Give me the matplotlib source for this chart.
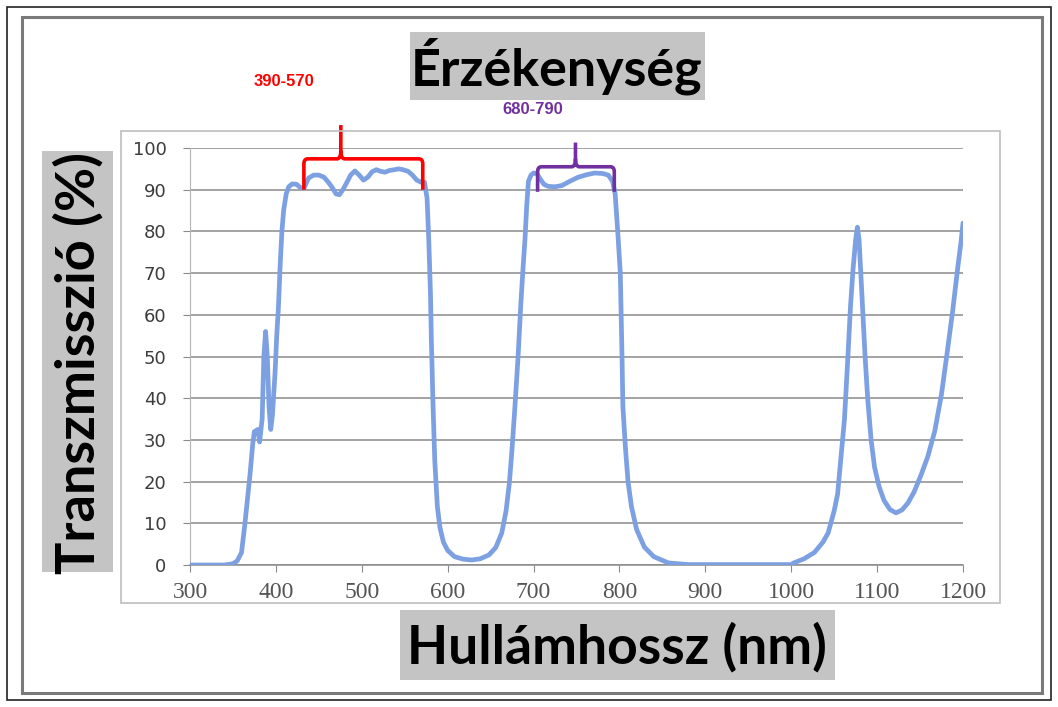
import matplotlib
matplotlib.use("Agg")
import matplotlib.pyplot as plt
from matplotlib.patches import Rectangle, PathPatch
from matplotlib.path import Path

# ---- data ----
wavelength = [300, 340, 350, 355, 360, 364, 367, 370, 373, 375, 379, 381, 384, 386, 388, 390,
              392, 394, 396, 399, 401, 403, 405, 407, 409, 412, 415, 419, 424, 429, 433, 438,
              444, 450, 456, 461, 465, 470, 474, 478, 482, 487, 492, 497, 502, 507, 512, 517,
              522, 527, 532, 538, 543, 548, 554, 559, 564, 569, 573, 576, 578, 580, 581, 583,
              585, 588, 591, 595, 600, 608, 618, 628, 638, 648, 656, 663, 668, 672, 675, 678,
              682, 685, 688, 690, 692, 694, 697, 700, 704, 708, 712, 717, 725, 733, 742, 752,
              762, 771, 780, 787, 792, 795, 798, 801, 803, 804, 807, 810, 814, 820, 829, 840,
              857, 880, 1000, 1003, 1015, 1027, 1037, 1043, 1050, 1054, 1058, 1062, 1066, 1069,
              1072, 1075, 1077, 1079, 1081, 1083, 1086, 1089, 1093, 1097, 1102, 1108, 1115, 1122,
              1129, 1136, 1143, 1151, 1159, 1167, 1175, 1182, 1188, 1194, 1198, 1200]
transmission = [0, 0, 0.3, 1, 3, 10, 16, 22, 29, 32, 32.5, 29.5, 35, 50, 56, 50,
                38, 32.5, 36, 46, 55, 62, 72, 80, 85, 89, 90.7, 91.4, 91.3, 90.4, 90.5, 92.8,
                93.5, 93.5, 93, 91.8, 90.7, 89, 88.8, 90, 91.5, 93.5, 94.5, 93.5, 92.3, 93, 94.3, 94.8,
                94.4, 94.2, 94.6, 94.8, 95, 94.8, 94.4, 93.5, 92.3, 91.8, 91.8, 88, 78, 65, 54, 38,
                25, 14, 9, 5.5, 3.5, 2, 1.4, 1.2, 1.5, 2.4, 4.2, 7.7, 13, 20, 28, 37,
                50, 62, 72, 78, 86, 92, 93.5, 94, 93.8, 92.5, 91.3, 90.8, 90.7, 91, 92, 93,
                93.6, 94, 93.9, 93.5, 92, 89, 80, 70, 50, 38, 28, 20, 14, 8.5, 4.3, 2,
                0.5, 0.1, 0.1, 0.5, 1.5, 3, 5.5, 7.7, 13, 17, 26, 35, 50, 62,
                71, 78, 81, 78, 70, 62, 50, 40, 30, 23.5, 19, 15.5, 13.3, 12.5,
                13.2, 14.9, 17.5, 21.5, 26, 32, 41, 51.6, 61, 71.5, 78, 82]
x_ticks = [300, 400, 500, 600, 700, 800, 900, 1000, 1100, 1200]
y_ticks = [0, 10, 20, 30, 40, 50, 60, 70, 80, 90, 100]

# bracket annotations: (left, centre, right, bottom, bar, top)
red_bracket = (432.6, 475.6, 571.0, 90.0, 97.4, 105.5)
purple_bracket = (704.7, 748.8, 794.0, 89.5, 95.5, 101.3)

title = "Érzékenység"
xlabel = "Hullámhossz (nm)"
ylabel = "Transzmisszió (%)"
red_label = "390-570"
purple_label = "680-790"

W, H = 1058, 707
fig = plt.figure(figsize=(W / 100, H / 100), dpi=100)
fig.patch.set_facecolor("white")


def fx(px):
    return px / W


def fy(py):
    return 1 - py / H


# outer frames
fig.patches.append(Rectangle((fx(7), fy(700)), fx(1051) - fx(7), fy(7) - fy(700),
                             transform=fig.transFigure, fill=False, ec="#222222", lw=1.2))
fig.patches.append(Rectangle((fx(22), fy(693)), fx(1042) - fx(22), fy(17) - fy(693),
                             transform=fig.transFigure, fill=False, ec="#7a7a7a", lw=2.2))
# plot-area frame
fig.patches.append(Rectangle((fx(121), fy(603)), fx(1000) - fx(121), fy(131) - fy(603),
                             transform=fig.transFigure, fill=False, ec="#bdbdbd", lw=1.2))

ax = fig.add_axes([fx(190), fy(565), fx(963) - fx(190), fy(148) - fy(565)])
ax.set_facecolor("none")
ax.plot(wavelength, transmission, color="#7ca0e2", lw=3.4, solid_capstyle="round",
        solid_joinstyle="round", zorder=3)
ax.set_xlim(300, 1200)
ax.set_ylim(0, 100)
ax.set_xticks(x_ticks)
ax.set_yticks(y_ticks)
ax.grid(axis="y", color="#8a8a8a", lw=1.1)
ax.set_axisbelow(True)
for s in ["top", "right"]:
    ax.spines[s].set_visible(False)
ax.spines["left"].set_color("#b5b5b5")
ax.spines["bottom"].set_color("#8a8a8a")
ax.spines["bottom"].set_linewidth(1.1)
ax.tick_params(axis="x", length=5, color="#8a8a8a", pad=7, labelsize=17, labelcolor="#555555")
ax.tick_params(axis="y", length=5, color="#8a8a8a", pad=12, labelsize=13, labelcolor="#3c3c3c")
for lab in ax.get_xticklabels():
    lab.set_family(["Liberation Serif", "DejaVu Serif"])
for lab in ax.get_yticklabels():
    lab.set_family(["DejaVu Sans"])


def bracket(b, color):
    L, C, R, y0, yb, yt = b
    dx, dy = 4.5, 1.2
    verts = [(L, y0), (L, yb - dy), (L, yb), (L + dx, yb), (C - dx, yb), (C, yb), (C, yb + dy * 1.6),
             (C, yt),
             (C, yb + dy * 1.6), (C, yb), (C + dx, yb), (R - dx, yb), (R, yb), (R, yb - dy), (R, y0)]
    codes = [Path.MOVETO, Path.LINETO, Path.CURVE3, Path.CURVE3, Path.LINETO, Path.CURVE3, Path.CURVE3,
             Path.LINETO,
             Path.MOVETO, Path.CURVE3, Path.CURVE3, Path.LINETO, Path.CURVE3, Path.CURVE3, Path.LINETO]
    ax.add_patch(PathPatch(Path(verts, codes), fill=False, ec=color, lw=2.6, clip_on=False,
                           zorder=5, capstyle="butt", joinstyle="round"))


bracket(red_bracket, "#ff0000")
bracket(purple_bracket, "#7030a0")

# gray label boxes
box_c = "#c4c4c4"
fig.patches.append(Rectangle((fx(410), fy(100)), fx(705) - fx(410), fy(32) - fy(100),
                             transform=fig.transFigure, fc=box_c, ec="none"))
fig.patches.append(Rectangle((fx(42), fy(572)), fx(113) - fx(42), fy(151) - fy(572),
                             transform=fig.transFigure, fc=box_c, ec="none"))
fig.patches.append(Rectangle((fx(400), fy(680)), fx(835) - fx(400), fy(610) - fy(680),
                             transform=fig.transFigure, fc=box_c, ec="none"))

big = dict(family=["Lato", "DejaVu Sans"], weight="bold", color="black")
fig.text(fx(557), fy(66), title, ha="center", va="center", fontsize=37.5, **big)
fig.text(fx(617), fy(647), xlabel, ha="center", va="center", fontsize=38.5, **big)
fig.text(fx(78), fy(363), ylabel, ha="center", va="center", rotation=90, fontsize=39, **big)

small = dict(family=["Liberation Sans", "DejaVu Sans"], weight="bold", fontsize=12)
fig.text(fx(284), fy(82), red_label, ha="center", va="center", color="#ff0000", **small)
fig.text(fx(533), fy(110), purple_label, ha="center", va="center", color="#7030a0", **small)

fig.savefig("out.png", dpi=100)
